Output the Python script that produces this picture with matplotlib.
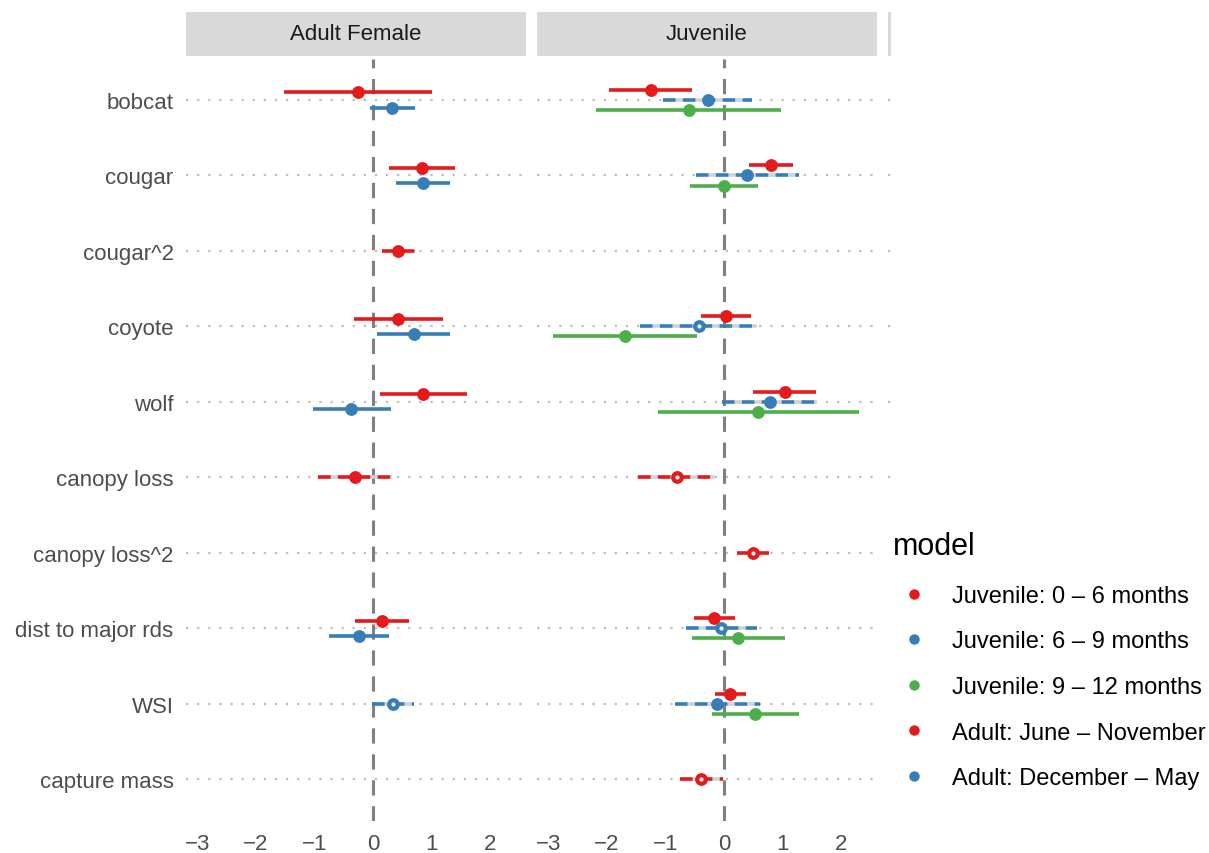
import numpy as np
import matplotlib.pyplot as plt
from matplotlib.lines import Line2D
from matplotlib.patches import Rectangle

plt.rcParams['font.family'] = ['Liberation Sans', 'DejaVu Sans']

nan = np.nan

# Terms (rows, top to bottom)
terms = ['bobcat', 'cougar', 'cougar^2', 'coyote', 'wolf', 'canopy loss',
         'canopy loss^2', 'dist to major rds', 'WSI', 'capture mass']

# Adult female models
adult_jun_est = [-0.26, 0.84, 0.43, 0.43, 0.85, -0.30, nan, 0.15, nan, nan]
adult_jun_lo = [-1.52, 0.27, 0.15, -0.33, 0.12, -0.94, nan, -0.31, nan, nan]
adult_jun_hi = [1.01, 1.40, 0.72, 1.20, 1.60, 0.32, nan, 0.61, nan, nan]
adult_jun_dashed = [0, 0, 1, 0, 0, 1, 0, 0, 0, 0]
adult_jun_open = [0, 0, 0, 0, 0, 0, 0, 0, 0, 0]

adult_dec_est = [0.32, 0.85, nan, 0.70, -0.37, nan, nan, -0.24, 0.34, nan]
adult_dec_lo = [-0.05, 0.39, nan, 0.07, -1.02, nan, nan, -0.75, -0.02, nan]
adult_dec_hi = [0.72, 1.31, nan, 1.31, 0.30, nan, nan, 0.27, 0.70, nan]
adult_dec_dashed = [0, 0, 0, 0, 0, 0, 0, 0, 1, 0]
adult_dec_open = [0, 0, 0, 0, 0, 0, 0, 0, 1, 0]

# Juvenile models
juv06_est = [-1.25, 0.80, nan, 0.03, 1.04, -0.81, 0.49, -0.17, 0.11, -0.39]
juv06_lo = [-1.96, 0.43, nan, -0.39, 0.50, -1.46, 0.22, -0.51, -0.15, -0.75]
juv06_hi = [-0.55, 1.18, nan, 0.46, 1.57, -0.15, 0.76, 0.18, 0.37, -0.02]
juv06_dashed = [0, 0, 0, 0, 0, 1, 1, 0, 0, 1]
juv06_open = [0, 0, 0, 0, 0, 1, 1, 0, 0, 1]

juv69_est = [-0.27, 0.39, nan, -0.43, 0.78, nan, nan, -0.05, -0.12, nan]
juv69_lo = [-1.04, -0.48, nan, -1.43, -0.03, nan, nan, -0.65, -0.84, nan]
juv69_hi = [0.48, 1.28, nan, 0.56, 1.59, nan, nan, 0.56, 0.62, nan]
juv69_dashed = [1, 1, 0, 1, 1, 0, 0, 1, 1, 0]
juv69_open = [0, 0, 0, 1, 0, 0, 0, 1, 0, 0]

juv912_est = [-0.60, 0.00, nan, -1.69, 0.58, nan, nan, 0.24, 0.53, nan]
juv912_lo = [-2.18, -0.58, nan, -2.92, -1.13, nan, nan, -0.55, -0.21, nan]
juv912_hi = [0.97, 0.58, nan, -0.46, 2.30, nan, nan, 1.04, 1.28, nan]
juv912_dashed = [0] * 10
juv912_open = [0] * 10

red, blue, green = '#E41A1C', '#377EB8', '#4DAF4A'

facets = ['Adult Female', 'Juvenile']
facet_models = [
    [(adult_jun_est, adult_jun_lo, adult_jun_hi, adult_jun_dashed, adult_jun_open, red),
     (adult_dec_est, adult_dec_lo, adult_dec_hi, adult_dec_dashed, adult_dec_open, blue)],
    [(juv06_est, juv06_lo, juv06_hi, juv06_dashed, juv06_open, red),
     (juv69_est, juv69_lo, juv69_hi, juv69_dashed, juv69_open, blue),
     (juv912_est, juv912_lo, juv912_hi, juv912_dashed, juv912_open, green)],
]

legend_labels = ['Juvenile: 0 – 6 months', 'Juvenile: 6 – 9 months',
                 'Juvenile: 9 – 12 months', 'Adult: June – November',
                 'Adult: December – May']
legend_colors = [red, blue, green, red, blue]

W, H = 1209, 854
fig = plt.figure(figsize=(W / 100, H / 100), dpi=100)


def box(x0, y0, x1, y1):
    return [x0 / W, 1 - y1 / H, (x1 - x0) / W, (y1 - y0) / H]


panel_x = [(186, 526), (537, 877), (888, 1228)]
panel_y = (59.5, 821.5)
strip_y = (13, 57)
dodge = 0.4
ypos = np.arange(len(terms))

for i, (x0, x1) in enumerate(panel_x):
    ax = fig.add_axes(box(x0, panel_y[0], x1, panel_y[1]))
    ax.set_xlim(-3.19, 2.61)
    ax.set_ylim(len(terms) - 0.45, -0.55)
    for s in ax.spines.values():
        s.set_visible(False)
    ax.set_xticks([-3, -2, -1, 0, 1, 2])
    ax.tick_params(axis='x', length=0, pad=9, labelsize=16, labelcolor='#4d4d4d')
    ax.set_yticks(ypos)
    if i == 0:
        ax.set_yticklabels(terms)
        ax.tick_params(axis='y', length=0, pad=9, labelsize=16, labelcolor='#4d4d4d')
    else:
        ax.tick_params(axis='y', length=0, labelleft=False)
    for y in ypos:
        ax.axhline(y, color='#bdbdbd', lw=1.6, linestyle=(0, (1, 4.0)), zorder=0)

    sax = fig.add_axes(box(x0, strip_y[0], x1, strip_y[1]))
    sax.set_facecolor('#d9d9d9')
    sax.set_xticks([])
    sax.set_yticks([])
    for s in sax.spines.values():
        s.set_visible(False)
    if i >= len(facets):
        continue
    sax.text(0.5, 0.5, facets[i], ha='center', va='center', fontsize=16, color='#1a1a1a')

    ax.axvline(0, color='#808080', lw=2.2, linestyle=(0, (5, 3.5)), zorder=1)

    models = facet_models[i]
    for t in range(len(terms)):
        present = [m for m in models if not np.isnan(m[0][t])]
        n = len(present)
        for k, (est, lo, hi, dashed, opn, col) in enumerate(present):
            y = t + (k - (n - 1) / 2) * dodge / n
            if dashed[t]:
                ax.hlines(y, lo[t], hi[t], color=col, lw=2.6, linestyle=(0, (3.5, 2)),
                          gapcolor='#cfd3d8', zorder=3)
            else:
                ax.hlines(y, lo[t], hi[t], color=col, lw=2.6, zorder=3)
            ax.plot(est[t], y, 'o', color=col, ms=8.2, mec=col, zorder=4)
            if opn[t]:
                ax.plot(est[t], y, 'o', color='#f2f2f2', ms=3.0, mec='none', zorder=5)

# white cover for the cut-off third facet
fig.patches.append(Rectangle((891 / W, 0), 1, 1, transform=fig.transFigure,
                             facecolor='white', edgecolor='none', zorder=5))
fig.patches.append(Rectangle((879 / W, 0), 1, 1 - 520 / H, transform=fig.transFigure,
                             facecolor='white', edgecolor='none', zorder=5))

handles = [Line2D([], [], marker='o', linestyle='none', color=c, ms=6.5) for c in legend_colors]
leg = fig.legend(handles, legend_labels, title='model', loc='upper left',
                 bbox_to_anchor=(872 / W, 1 - 511 / H), frameon=False,
                 fontsize=17, title_fontsize=22, labelspacing=1.0,
                 handlelength=1.78, handletextpad=0.72, alignment='left')
leg.set_zorder(10)

fig.savefig('out.png', dpi=100)
